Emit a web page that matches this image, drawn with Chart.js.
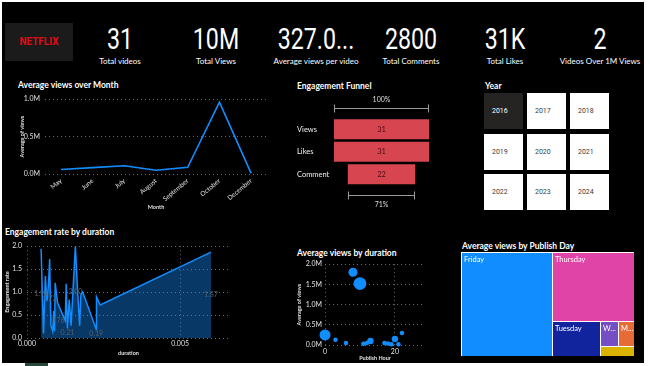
<!DOCTYPE html>
<html>
<head>
<meta charset="utf-8">
<title>Netflix dashboard</title>
<script src="https://cdn.jsdelivr.net/npm/chart.js@4.4.1/dist/chart.umd.min.js"></script>
<style>
  html, body { margin: 0; padding: 0; }
  body { width: 650px; height: 366px; background: #fff; position: relative; overflow: hidden; font-family: Lato, "Liberation Sans", sans-serif; }
  #board { position: absolute; left: 2px; top: 2px; width: 642px; height: 361px; background: #000; }
  .abs { position: absolute; }
  .logo { left: 5px; top: 23px; width: 68px; height: 38px; background: #1b1b1b; color: #e50914; font-family: Roboto, sans-serif; font-weight: 700; font-size: 10px; line-height: 38px; text-align: center; }
  .kpi-num { top: 25px; width: 120px; text-align: center; color: #fff; font-family: Roboto, sans-serif; font-size: 29px; line-height: 29px; transform: scaleX(0.8); white-space: nowrap; }
  .kpi-lbl { top: 56px; width: 120px; text-align: center; color: #fff; font-size: 8px; line-height: 10px; white-space: nowrap; }
  .title { color: #fff; font-weight: 700; font-size: 8.5px; line-height: 10px; white-space: nowrap; }
  .tile { width: 39px; height: 36px; background: #fff; color: #3a3a3a; font-family: Roboto, sans-serif; font-size: 7px; line-height: 36px; box-sizing: border-box; padding-left: 8px; }
  .tile.sel { background: #252423; color: #fff; }
  canvas { position: absolute; }
</style>
</head>
<body>
<div id="board"></div>
<div class="abs" style="left:25px;top:363px;width:23px;height:3px;background:#29473a"></div>
<div class="abs logo">NETFLIX</div>
<div id="kpis"></div>

<div class="abs title" style="left:18px;top:80px">Average views over Month</div>
<canvas id="monthChart" width="290" height="125" style="left:0;top:90px"></canvas>

<div class="abs title" style="left:297px;top:81px">Engagement Funnel</div>
<canvas id="funnelChart" width="153" height="120" style="left:297px;top:95px"></canvas>

<div class="abs title" style="left:485px;top:81px">Year</div>
<div id="years"></div>

<div class="abs title" style="left:5px;top:227px">Engagement rate by duration</div>
<canvas id="rateChart" width="232" height="125" style="left:0;top:237px"></canvas>

<div class="abs title" style="left:297px;top:248px">Average views by duration</div>
<canvas id="hourChart" width="160" height="105" style="left:290px;top:257px"></canvas>

<div class="abs title" style="left:462px;top:241px">Average views by Publish Day</div>
<canvas id="dayChart" width="173" height="104" style="left:461px;top:252px"></canvas>

<script>
// ---- data ----
const kpiValues = ['31', '10M', '327.0...', '2800', '31K', '2'];
const kpiLabels = ['Total videos', 'Total Views', 'Average views per video', 'Total Comments', 'Total Likes', 'Videos Over 1M Views'];

const months = ['May', 'June', 'July', 'August', 'September', 'October', 'December'];
const monthViews = [60000, 85000, 110000, 50000, 90000, 960000, 8000];

const funnelStages = ['Views', 'Likes', 'Comment'];
const funnelCounts = [31, 31, 22];

const years = ['2016', '2017', '2018', '2019', '2020', '2021', '2022', '2023', '2024'];
const selectedYear = '2016';

const durations = [0.00046, 0.00054, 0.00060, 0.00065, 0.00070, 0.00074, 0.00078, 0.00084, 0.00087,
                   0.00090, 0.00092, 0.00100, 0.00125, 0.00128, 0.00132, 0.00138, 0.00144, 0.00158,
                   0.00165, 0.00172, 0.00176, 0.00181, 0.00185, 0.00226, 0.00227, 0.00239, 0.00601];
const engagementRates = [1.94, 0.10, 1.35, 0.80, 1.15, 1.72, 0.28, 0.15, 0.59,
                         0.15, 1.20, 0.76, 0.38, 1.18, 0.21, 0.84, 0.27, 2.00,
                         1.05, 0.27, 0.94, 1.00, 0.94, 0.19, 0.90, 0.72, 1.87];
const labelledPoints = [0, 5, 11, 14, 17, 23, 26];

const publishHours = [0, 3, 6, 8, 10, 11, 12, 13, 17, 18, 19, 20, 21, 22];
const hourViews = [250000, 130000, 50000, 1800000, 1520000, 30000, 50000, 100000, 50000, 40000, 20000, 150000, 20000, 300000];
const hourVideos = [6, 1, 1, 4, 8, 1, 1, 2, 1, 1, 1, 2, 1, 1];

const days = ['Friday', 'Thursday', 'Tuesday', 'Wednesday', 'Monday', 'Saturday'];
const dayViews = [1010000, 600000, 180000, 48000, 42000, 36000];
const dayColors = ['#118DFF', '#E044A7', '#12239E', '#744EC2', '#E66C37', '#D9B300'];

// ---- cards + slicer ----
const kpiCenters = [120, 216, 316, 411, 505, 600];
const kpiBox = document.getElementById('kpis');
kpiValues.forEach((v, i) => {
    const n = document.createElement('div');
    n.className = 'abs kpi-num';
    n.style.left = (kpiCenters[i] - 60) + 'px';
    n.textContent = v;
    const l = document.createElement('div');
    l.className = 'abs kpi-lbl';
    l.style.left = (kpiCenters[i] - 60) + 'px';
    l.textContent = kpiLabels[i];
    kpiBox.appendChild(n);
    kpiBox.appendChild(l);
});

const yearBox = document.getElementById('years');
years.forEach((y, i) => {
    const t = document.createElement('div');
    t.className = 'abs tile' + (y === selectedYear ? ' sel' : '');
    t.style.left = (484 + (i % 3) * 43) + 'px';
    t.style.top = (93 + Math.floor(i / 3) * 40.5) + 'px';
    t.textContent = y;
    yearBox.appendChild(t);
});

// ---- chart defaults ----
Chart.defaults.font.family = 'Lato, "Liberation Sans", sans-serif';
Chart.defaults.color = '#e0e0e0';
Chart.defaults.animation = false;
Chart.defaults.responsive = false;
Chart.defaults.plugins.legend.display = false;
Chart.defaults.plugins.tooltip.enabled = false;

const dotted = { display: false, dash: [1, 3] };
const gridLines = { color: '#6a6a6a', drawTicks: false, lineWidth: 1 };
const tickFont = { size: 7 };
const axisTitleFont = { size: 5.5, weight: 'bold' };
const fmtM = v => (v / 1e6).toFixed(1) + 'M';

// Average views over Month
new Chart(document.getElementById('monthChart'), {
    type: 'line',
    data: {
        labels: months,
        datasets: [{ data: monthViews, borderColor: '#118DFF', borderWidth: 1.6, pointRadius: 0, tension: 0 }]
    },
    options: {
        layout: { padding: { top: 8, right: 23 } },
        scales: {
            x: {
                offset: true,
                grid: { display: false, drawTicks: false },
                border: { display: false },
                ticks: { autoSkip: false, minRotation: 40, maxRotation: 40, font: { size: 6.5 }, padding: 3 },
                title: { display: true, text: 'Month', font: axisTitleFont, padding: { top: 0, bottom: 4.7 } },
                afterFit: s => { s.height = 41; }
            },
            y: {
                min: 0, max: 1000000,
                ticks: { stepSize: 500000, callback: fmtM, font: tickFont, padding: 5 },
                grid: gridLines,
                border: dotted,
                title: { display: true, text: 'Average of views', font: axisTitleFont, padding: { top: 18.7, bottom: 0 } },
                afterFit: s => { s.width = 45; }
            }
        }
    }
});

// Engagement Funnel
const funnelMax = Math.max(...funnelCounts);
const funnelDecor = {
    id: 'funnelDecor',
    afterDatasetsDraw(chart) {
        const ctx = chart.ctx;
        const bars = chart.getDatasetMeta(0).data;
        const area = chart.chartArea;
        ctx.save();
        ctx.textAlign = 'center';
        ctx.textBaseline = 'middle';
        ctx.font = '7.5px Lato';
        bars.forEach((b, i) => {
            ctx.fillStyle = '#4a0d14';
            ctx.fillText(String(funnelCounts[i]), (b.x + b.base) / 2, b.y);
        });
        const bracket = (bar, y, textY, text) => {
            const l = Math.round(Math.min(bar.x, bar.base)), r = Math.round(Math.max(bar.x, bar.base));
            ctx.strokeStyle = '#9a9a9a';
            ctx.lineWidth = 1;
            ctx.beginPath();
            ctx.moveTo(l, y); ctx.lineTo(r, y);
            ctx.moveTo(l + 0.5, y - 4); ctx.lineTo(l + 0.5, y + 4);
            ctx.moveTo(r - 0.5, y - 4); ctx.lineTo(r - 0.5, y + 4);
            ctx.stroke();
            ctx.fillStyle = '#dddddd';
            ctx.font = '7px Lato';
            ctx.fillText(text, (l + r) / 2, textY);
        };
        const first = bars[0], last = bars[bars.length - 1];
        bracket(first, Math.round(area.top - 10) + 0.5, area.top - 18, '100%');
        bracket(last, Math.round(area.bottom + 9) + 0.5, area.bottom + 19.5,
            Math.round(funnelCounts[funnelCounts.length - 1] / funnelCounts[0] * 100) + '%');
        ctx.restore();
    }
};
new Chart(document.getElementById('funnelChart'), {
    type: 'bar',
    data: {
        labels: funnelStages,
        datasets: [{
            data: funnelCounts.map(v => [-v / 2, v / 2]),
            backgroundColor: '#D64550',
            barPercentage: 0.89,
            categoryPercentage: 1
        }]
    },
    options: {
        indexAxis: 'y',
        layout: { padding: { top: 23, right: 21, bottom: 29.5 } },
        scales: {
            x: { display: false, min: -funnelMax / 2, max: funnelMax / 2 },
            y: {
                grid: { display: false },
                border: { display: false },
                ticks: { crossAlign: 'far', font: { size: 7.5 }, color: '#eeeeee' },
                afterFit: s => { s.width = 37; }
            }
        }
    },
    plugins: [funnelDecor]
});

// Engagement rate by duration
const areaLabels = {
    id: 'areaLabels',
    afterDatasetsDraw(chart) {
        const ctx = chart.ctx;
        const pts = chart.getDatasetMeta(0).data;
        const base = chart.scales.y.getPixelForValue(0);
        ctx.save();
        ctx.font = '7px Lato';
        ctx.fillStyle = '#56606a';
        ctx.textAlign = 'center';
        ctx.textBaseline = 'middle';
        labelledPoints.forEach(i => {
            const p = pts[i];
            ctx.fillText(engagementRates[i].toFixed(2), p.x, (p.y + base) / 2);
        });
        ctx.restore();
    }
};
new Chart(document.getElementById('rateChart'), {
    type: 'line',
    data: {
        datasets: [{
            data: durations.map((d, i) => ({ x: d, y: engagementRates[i] })),
            borderColor: '#118DFF',
            borderWidth: 1.5,
            backgroundColor: 'rgba(17,141,255,0.4)',
            fill: 'origin',
            pointRadius: 0,
            tension: 0
        }]
    },
    options: {
        layout: { padding: { top: 6, right: 2 } },
        scales: {
            x: {
                type: 'linear', min: 0, max: 0.00663,
                ticks: { stepSize: 0.005, includeBounds: false, callback: v => v.toFixed(3), font: tickFont, padding: 2 },
                grid: gridLines,
                border: dotted,
                title: { display: true, text: 'duration', font: axisTitleFont, padding: { top: 0, bottom: 5.7 } },
                afterFit: s => { s.height = 24; }
            },
            y: {
                min: 0, max: 2,
                ticks: { stepSize: 0.5, callback: v => v.toFixed(1), font: tickFont, padding: 5 },
                grid: gridLines,
                border: dotted,
                title: { display: true, text: 'Engagement rate', font: axisTitleFont, padding: { top: 3.7, bottom: 0 } },
                afterFit: s => { s.width = 27; }
            }
        }
    },
    plugins: [areaLabels]
});

// Average views by duration (publish hour bubbles)
new Chart(document.getElementById('hourChart'), {
    type: 'bubble',
    data: {
        datasets: [{
            data: publishHours.map((h, i) => ({ x: h, y: hourViews[i], r: 2.25 * Math.sqrt(hourVideos[i]) })),
            backgroundColor: '#118DFF',
            borderWidth: 0,
            clip: false
        }]
    },
    options: {
        layout: { padding: { top: 7, right: 25 } },
        scales: {
            x: {
                type: 'linear', min: 0, max: 28.6,
                ticks: { stepSize: 20, includeBounds: false, font: tickFont, padding: 2.8 },
                grid: gridLines,
                border: dotted,
                title: { display: true, text: 'Publish Hour', font: axisTitleFont, padding: { top: 0, bottom: 0.7 } },
                afterFit: s => { s.height = 17; }
            },
            y: {
                min: 0, max: 2000000,
                ticks: { stepSize: 500000, callback: fmtM, font: tickFont, padding: 3 },
                grid: gridLines,
                border: dotted,
                title: { display: true, text: 'Average of views', font: axisTitleFont, padding: { top: 5.7, bottom: 0 } },
                afterFit: s => { s.width = 35; }
            }
        }
    }
});

// Average views by Publish Day (squarified treemap drawn on the chart's scales)
function worst(row, side) {
    const s = row.reduce((a, b) => a + b.a, 0);
    const mx = Math.max(...row.map(r => r.a)), mn = Math.min(...row.map(r => r.a));
    return Math.max(side * side * mx / (s * s), (s * s) / (side * side * mn));
}
function squarify(values, rect) {
    const total = values.reduce((a, b) => a + b, 0);
    const area = rect.w * rect.h;
    let items = values.map((v, i) => ({ i, a: v / total * area }));
    const out = [];
    let r = { ...rect };
    while (items.length) {
        const side = Math.min(r.w, r.h);
        const row = [items[0]];
        let k = 1;
        while (k < items.length && worst(row.concat(items[k]), side) <= worst(row, side)) { row.push(items[k]); k++; }
        const s = row.reduce((a, b) => a + b.a, 0);
        if (r.w >= r.h) {
            const cw = s / r.h;
            let yy = r.y;
            row.forEach(it => { const hh = it.a / cw; out.push({ i: it.i, x: r.x, y: yy, w: cw, h: hh }); yy += hh; });
            r = { x: r.x + cw, y: r.y, w: r.w - cw, h: r.h };
        } else {
            const rh = s / r.w;
            let xx = r.x;
            row.forEach(it => { const ww = it.a / rh; out.push({ i: it.i, x: xx, y: r.y, w: ww, h: rh }); xx += ww; });
            r = { x: r.x, y: r.y + rh, w: r.w, h: r.h - rh };
        }
        items = items.slice(k);
    }
    return out;
}
const treemap = {
    id: 'treemap',
    afterDatasetsDraw(chart) {
        const { ctx, chartArea: a } = chart;
        const xs = chart.scales.x, ys = chart.scales.y;
        const aspect = a.width / a.height;
        const cells = squarify(dayViews, { x: 0, y: 0, w: aspect, h: 1 });
        ctx.save();
        ctx.fillStyle = '#ffffff';
        ctx.fillRect(a.left, a.top, a.width, a.height);
        ctx.font = '7.5px Lato';
        ctx.textBaseline = 'top';
        cells.forEach(c => {
            const x0 = Math.round(xs.getPixelForValue(c.x / aspect)), x1 = Math.round(xs.getPixelForValue((c.x + c.w) / aspect));
            const y0 = Math.round(ys.getPixelForValue(c.y)), y1 = Math.round(ys.getPixelForValue(c.y + c.h));
            ctx.fillStyle = dayColors[c.i];
            ctx.fillRect(x0 + 1, y0 + 1, x1 - x0 - 1, y1 - y0 - 1);
            if (y1 - y0 < 14) return;
            let name = days[c.i];
            if (ctx.measureText(name).width > x1 - x0 - 5) name = name[0] + '...';
            if (ctx.measureText(name).width > x1 - x0 - 3) return;
            ctx.fillStyle = '#ffffff';
            ctx.fillText(name, x0 + 3, y0 + 4);
        });
        ctx.restore();
    }
};
new Chart(document.getElementById('dayChart'), {
    type: 'scatter',
    data: { datasets: [{ data: [] }] },
    options: {
        layout: { padding: 0 },
        scales: {
            x: { display: false, min: 0, max: 1 },
            y: { display: false, min: 0, max: 1, reverse: true }
        }
    },
    plugins: [treemap]
});
</script>
</body>
</html>
